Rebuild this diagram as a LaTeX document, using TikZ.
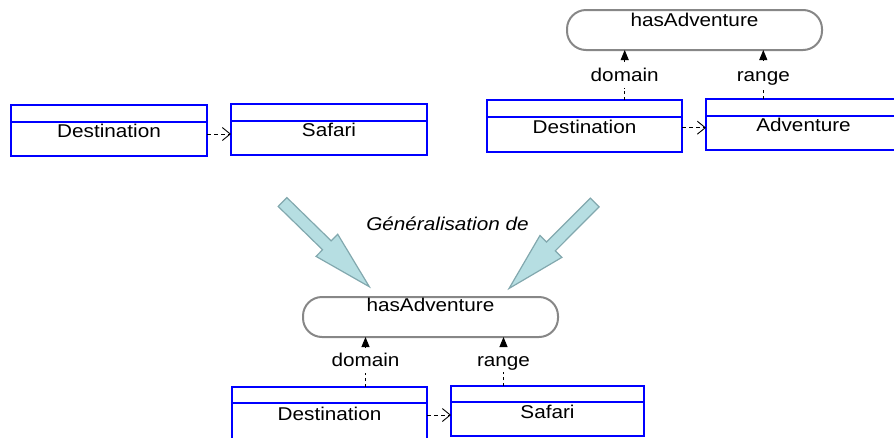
\documentclass[tikz,border=0pt]{standalone}
\usepackage{fontspec}
\setmainfont{Liberation Sans}[FakeStretch=1.12]
\usetikzlibrary{arrows.meta}
\definecolor{clsblue}{RGB}{0,0,255}
\definecolor{propgray}{RGB}{135,135,135}
\definecolor{genfill}{RGB}{182,222,226}
\definecolor{genedge}{RGB}{130,168,174}
\begin{document}
\begin{tikzpicture}[x=1pt,y=-1pt,
  lbl/.style={font=\fontsize{18.5}{22}\selectfont},
  cls/.style={lbl, draw=clsblue, line width=2.8pt, rectangle, inner sep=0pt, outer sep=0pt,
    minimum width=196pt, minimum height=51pt, text height=14pt, text depth=0pt},
  divider/.style={draw=clsblue, line width=2.8pt},
  prop/.style={lbl, draw=propgray, line width=2pt, rounded corners=19pt, rectangle,
    minimum width=255pt, minimum height=40pt, inner sep=0pt, outer sep=0pt, text height=14pt},
  role/.style={lbl, anchor=base, inner sep=6pt, text height=14pt, text depth=0pt},
  dep/.style={dash pattern=on 4pt off 3pt, line width=0.9pt, -{Straight Barb[length=8pt,width=13pt]}},
  rolel/.style={dash pattern=on 3pt off 3pt, line width=0.9pt},
  roletip/.style={line width=0.9pt, -{Triangle[length=10pt,width=8pt]}},
  genarrow/.pic={\filldraw[fill=genfill,draw=genedge,line width=1.2pt,line join=miter]
    (0,-6.2) -- (62,-6.2) -- (62,-15.5) -- (121.3,0) -- (62,15.5) -- (62,6.2) -- (0,6.2) -- cycle;}
]
\clip (0,0) rectangle (894,437);

% top left
\node[cls] (D1) at (109,130.5) {Destination};
\node[cls] (S1) at (329,129.5) {Safari};
\draw[divider] ([yshift=-17pt]D1.north west) -- ([yshift=-17pt]D1.north east);
\draw[divider] ([yshift=-17pt]S1.north west) -- ([yshift=-17pt]S1.north east);
\coordinate (d1s) at ([yshift=-3.5pt]D1.east);
\draw[dep] (d1s) -- (d1s -| S1.west);

% top right
\node[prop, text depth=21pt] (R1) at (694.5,30) {hasAdventure};
\node[cls, minimum width=195pt, minimum height=52pt] (D2) at (584.5,126) {Destination};
\node[cls, minimum width=195pt] (A2) at (803.5,124.5) {Adventure};
\draw[divider] ([yshift=-17pt]D2.north west) -- ([yshift=-17pt]D2.north east);
\draw[divider] ([yshift=-17pt]A2.north west) -- ([yshift=-17pt]A2.north east);
\coordinate (d2s) at ([yshift=-1.7pt]D2.east);
\draw[dep] (d2s) -- (d2s -| A2.west);
\node[role] (dom1) at (624.7,81.7) {domain};
\node[role] (rng1) at (763.3,81) {range};
\draw[rolel] (D2.north -| dom1) -- (dom1.south);
\draw[roletip] (dom1.north) -- (R1.south -| dom1);
\draw[rolel] (A2.north -| rng1) -- (rng1.south);
\draw[roletip] (rng1.north) -- (R1.south -| rng1);

% generalisation
\pic[rotate=-44.3] at (282.5,202) {genarrow};
\pic[rotate=-134.9] at (594.7,202.5) {genarrow};
\node[lbl, font=\fontsize{18.5}{22}\selectfont\itshape, anchor=base] (gen) at (447.5,230) {Généralisation de};

% bottom
\node[prop, text depth=24.5pt] (R3) at (430.5,317) {hasAdventure};
\node[cls, minimum width=195pt, minimum height=53pt] (D3) at (329.5,413.5) {Destination};
\node[cls, minimum width=193pt, minimum height=50pt] (S3) at (547.5,411) {Safari};
\draw[divider] ([yshift=-16pt]D3.north west) -- ([yshift=-16pt]D3.north east);
\draw[divider] ([yshift=-16pt]S3.north west) -- ([yshift=-16pt]S3.north east);
\coordinate (d3s) at ([yshift=-1.5pt]D3.east);
\draw[dep] (d3s) -- (d3s -| S3.west);
\node[role] (dom3) at (365.5,366.7) {domain};
\node[role] (rng3) at (503.5,366) {range};
\draw[rolel] (D3.north -| dom3) -- (dom3.south);
\draw[roletip] (dom3.north) -- (R3.south -| dom3);
\draw[rolel] (S3.north -| rng3) -- (rng3.south);
\draw[roletip] (rng3.north) -- (R3.south -| rng3);
\end{tikzpicture}
\end{document}
